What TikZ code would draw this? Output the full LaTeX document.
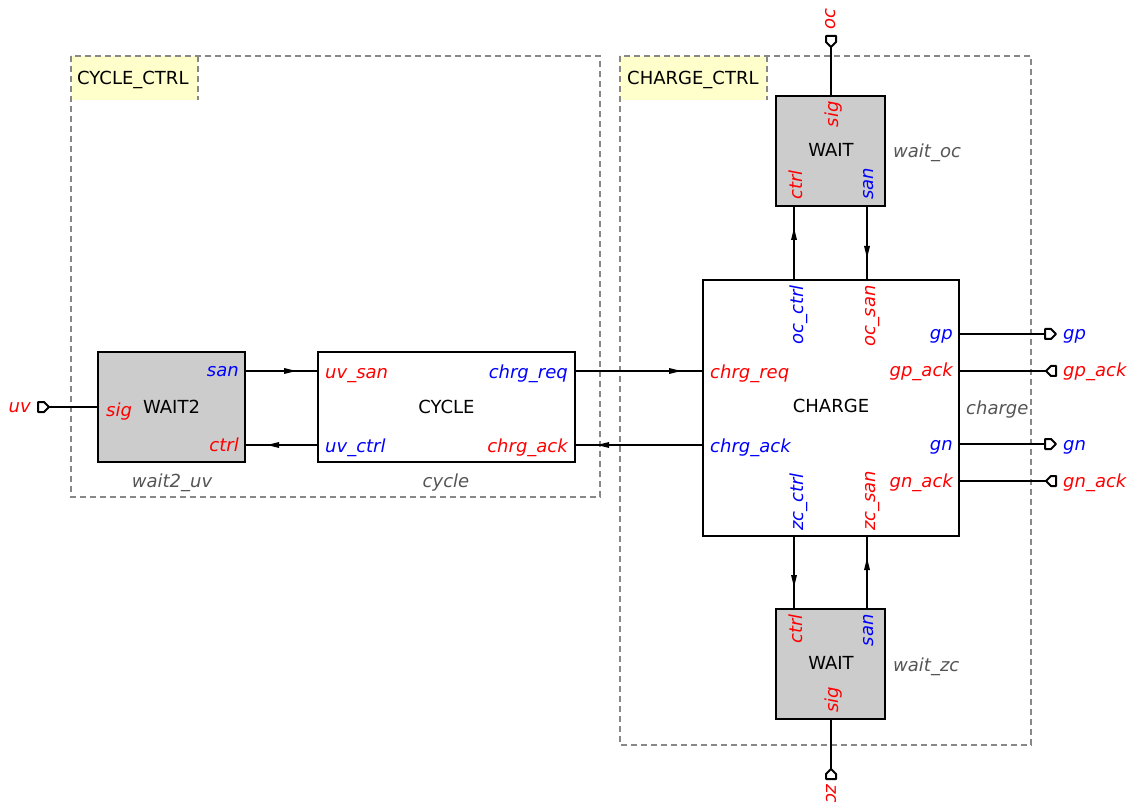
\documentclass[tikz,border=0pt]{standalone}
\usepackage{fontspec}
\setmainfont{DejaVu Sans}
\usetikzlibrary{calc}
\definecolor{pred}{HTML}{FF0000}
\definecolor{pblue}{HTML}{0000FF}
\definecolor{iname}{HTML}{555555}
\definecolor{boxgray}{HTML}{CCCCCC}
\definecolor{grpline}{HTML}{888888}
\definecolor{grpfill}{HTML}{FFFFCC}
\tikzset{
  group/.style={draw=grpline, line width=1.6pt, dash pattern=on 6pt off 4pt},
  grplabel/.style={fill=grpfill},
  grptext/.style={anchor=base west, inner sep=0pt, text=black},
  block/.style={draw=black, line width=2.4pt, inner sep=0pt, fill=white},
  waitblock/.style={block, fill=boxgray},
  wire/.style={line width=1.5pt, draw=black},
  arrowtri/.style={fill=black},
  port/.style={draw=black, fill=white, line width=2pt, line join=round},
  lr/.style={inner sep=0pt, font=\fontsize{18}{21}\selectfont\itshape, text=pred},
  lb/.style={inner sep=0pt, font=\fontsize{18}{21}\selectfont\itshape, text=pblue},
  inst/.style={inner sep=0pt, font=\fontsize{18}{21}\selectfont\itshape, text=iname},
}
\newcommand{\flowline}[2]{%
  \draw[wire] (#1) -- (#2);
  \fill[arrowtri] ($(#2)!22pt!(#1)$) -- ($(#2)!34pt!(#1)!3pt!90:(#1)$) -- ($(#2)!34pt!(#1)!3pt!-90:(#1)$) -- cycle;}
\begin{document}
\begin{tikzpicture}[x=1pt,y=-1pt, font=\fontsize{18}{21}\selectfont]
\useasboundingbox (0,0) rectangle (1133,802);
% groups
\fill[grplabel] (71,56) rectangle (198,100);
\fill[grplabel] (620,56) rectangle (767,100);
\draw[group] (198,56) -- (198,100);
\draw[group] (767,56) -- (767,100);
\draw[group] (71,56) rectangle (600,497);
\draw[group] (620,56) rectangle (1031,745);
\node[grptext] (gcyc) at (77,85) {CYCLE\_CTRL};
\node[grptext] (gchg) at (627,85) {CHARGE\_CTRL};

% blocks
\node[waitblock, minimum width=147pt, minimum height=110pt] (wait2) at (171.5,407) {WAIT2};
\node[block, minimum width=257pt, minimum height=110pt] (cycle) at (446.5,407) {CYCLE};
\node[block, minimum width=256pt, minimum height=256pt] (charge) at (831,408) {};
\node (chargetxt) at (831,405.5) {CHARGE};
\node[waitblock, minimum width=109pt, minimum height=110pt] (waitoc) at (830.5,151) {};
\node (waitoctxt) at (831,149.5) {WAIT};
\node[waitblock, minimum width=109pt, minimum height=110pt] (waitzc) at (830.5,664) {};
\node (waitzctxt) at (831,662.5) {WAIT};

% port coordinates
\coordinate (w2san) at (245,371);
\coordinate (w2ctrl) at (245,445);
\coordinate (w2sig) at (98,407);
\coordinate (cyuvsan) at (318,371);
\coordinate (cyuvctrl) at (318,445);
\coordinate (cyreq) at (575,371);
\coordinate (cyack) at (575,445);
\coordinate (chreq) at (703,371);
\coordinate (chack) at (703,445);
\coordinate (chocctrl) at (794,280);
\coordinate (chocsan) at (867,280);
\coordinate (chzcctrl) at (794,536);
\coordinate (chzcsan) at (867,536);
\coordinate (chgp) at (959,334);
\coordinate (chgpack) at (959,371);
\coordinate (chgn) at (959,444);
\coordinate (chgnack) at (959,481);
\coordinate (occtrl) at (794,206);
\coordinate (ocsan) at (867,206);
\coordinate (ocsig) at (831,96);
\coordinate (zcctrl) at (794,609);
\coordinate (zcsan) at (867,609);
\coordinate (zcsig) at (831,719);
% external ports
\coordinate (puv) at (49,407);
\coordinate (poc) at (831,47);
\coordinate (pzc) at (831,769);
\coordinate (pgp) at (1045,334);
\coordinate (pgpack) at (1046,371);
\coordinate (pgn) at (1045,444);
\coordinate (pgnack) at (1046,481);

% connectors
\flowline{w2san}{cyuvsan}
\flowline{cyuvctrl}{w2ctrl}
\flowline{cyreq}{chreq}
\flowline{chack}{cyack}
\flowline{chocctrl}{occtrl}
\flowline{ocsan}{chocsan}
\flowline{chzcctrl}{zcctrl}
\flowline{zcsan}{chzcsan}
\draw[wire] (puv) -- (w2sig);
\draw[wire] (poc) -- (ocsig);
\draw[wire] (pzc) -- (zcsig);
\draw[wire] (chgp) -- (pgp);
\draw[wire] (chgpack) -- (pgpack);
\draw[wire] (chgn) -- (pgn);
\draw[wire] (chgnack) -- (pgnack);

% port shapes
\draw[port] (puv) ++(-11,-5) -- ++(6,0) -- ++(5,5) -- ++(-5,5) -- ++(-6,0) -- cycle;
\draw[port] (poc) ++(-5,-11) -- ++(10,0) -- ++(0,6) -- ++(-5,5) -- ++(-5,-5) -- cycle;
\draw[port] (pzc) -- ++(5,5) -- ++(0,5) -- ++(-10,0) -- ++(0,-5) -- cycle;
\draw[port] (pgp) ++(0,-5) -- ++(6,0) -- ++(5,5) -- ++(-5,5) -- ++(-6,0) -- cycle;
\draw[port] (pgn) ++(0,-5) -- ++(6,0) -- ++(5,5) -- ++(-5,5) -- ++(-6,0) -- cycle;
\draw[port] (pgpack) -- ++(5,-5) -- ++(5,0) -- ++(0,10) -- ++(-5,0) -- cycle;
\draw[port] (pgnack) -- ++(5,-5) -- ++(5,0) -- ++(0,10) -- ++(-5,0) -- cycle;

% port labels: WAIT2
\node[lb, anchor=base east] (l1) at (239,377) {san};
\node[lr, anchor=base east] (l2) at (239,451) {ctrl};
\node[lr, anchor=base west] (l3) at (106,416) {sig};
% CYCLE
\node[lr, anchor=base west] (l4) at (325,378) {uv\_san};
\node[lb, anchor=base west] (l5) at (325,452) {uv\_ctrl};
\node[lb, anchor=base east] (l6) at (568,379) {chrg\_req};
\node[lr, anchor=base east] (l7) at (568,452) {chrg\_ack};
% CHARGE
\node[lr, anchor=base west] (l8) at (710,379) {chrg\_req};
\node[lb, anchor=base west] (l9) at (710,452) {chrg\_ack};
\node[lb, anchor=base east] (l10) at (953,340) {gp};
\node[lr, anchor=base east] (l11) at (953,377) {gp\_ack};
\node[lb, anchor=base east] (l12) at (953,450) {gn};
\node[lr, anchor=base east] (l13) at (953,487) {gn\_ack};
\node[lb, rotate=90, anchor=base east] (l14) at (803,285) {oc\_ctrl};
\node[lr, rotate=90, anchor=base east] (l15) at (875,285) {oc\_san};
\node[lb, rotate=90, anchor=base west] (l16) at (803,531) {zc\_ctrl};
\node[lr, rotate=90, anchor=base west] (l17) at (875,531) {zc\_san};
% WAIT oc
\node[lr, rotate=90, anchor=base east] (l18) at (838,101) {sig};
\node[lr, rotate=90, anchor=base west] (l19) at (802,200) {ctrl};
\node[lb, rotate=90, anchor=base west] (l20) at (873,200) {san};
% WAIT zc
\node[lr, rotate=90, anchor=base east] (l21) at (802,614) {ctrl};
\node[lb, rotate=90, anchor=base east] (l22) at (873,614) {san};
\node[lr, rotate=90, anchor=base west] (l23) at (838,713) {sig};
% external labels
\node[lr, anchor=base east] (luv) at (31,412) {uv};
\node[lr, rotate=90, anchor=base west] (loc) at (835,30) {oc};
\node[lr, rotate=-90, anchor=base west] (lzc) at (826,784) {zc};
\node[lb, anchor=base west] (lgp) at (1063,340) {gp};
\node[lr, anchor=base west] (lgpack) at (1063,377) {gp\_ack};
\node[lb, anchor=base west] (lgn) at (1063,450) {gn};
\node[lr, anchor=base west] (lgnack) at (1063,487) {gn\_ack};
% instance names
\node[inst, anchor=base] (i1) at (172,487) {wait2\_uv};
\node[inst, anchor=base] (i2) at (446,487) {cycle};
\node[inst, anchor=base west] (i3) at (966,414) {charge};
\node[inst, anchor=base west] (i4) at (893,158) {wait\_oc};
\node[inst, anchor=base west] (i5) at (893,671) {wait\_zc};
\end{tikzpicture}
\end{document}
